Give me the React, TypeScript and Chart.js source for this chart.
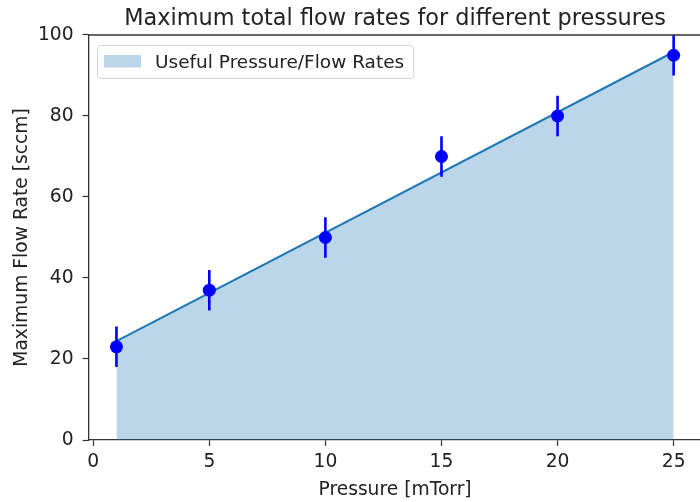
import React, { useEffect, useRef } from "react";
import { Chart, registerables } from "chart.js";

Chart.register(...registerables);

const pressures = [1, 5, 10, 15, 20, 25];
const flowRates = [23, 37, 50, 70, 80, 95];
const flowErrors = [5, 5, 5, 5, 5, 5];
const fitPressures = [1, 25];
const fitFlowRates = [24.4, 95.8];
const xTicks = [0, 5, 10, 15, 20, 25];
const yTicks = [0, 20, 40, 60, 80, 100];
const titleText = "Maximum total flow rates for different pressures";
const xLabel = "Pressure [mTorr]";
const yLabel = "Maximum Flow Rate [sccm]";
const legendLabel = "Useful Pressure/Flow Rates";

const FAMILY = "'DejaVu Sans', sans-serif";
const FS = 18.7;
const TEXT = "#222222";
const AXIS = "#333333";
const C0 = "#1f77b4";
const FILL = "rgba(31,119,180,0.3)";

const framePlugin = {
  id: "frame",
  afterDraw(chart: any) {
    const { ctx, chartArea } = chart;
    ctx.save();
    // top & right spines
    ctx.strokeStyle = AXIS;
    ctx.lineWidth = 1.3;
    ctx.beginPath();
    ctx.moveTo(chartArea.left, chartArea.top);
    ctx.lineTo(chartArea.right, chartArea.top);
    ctx.lineTo(chartArea.right, chartArea.bottom);
    ctx.stroke();

    // legend (inside axes, upper left)
    ctx.font = `18.5px ${FAMILY}`;
    const tw = ctx.measureText(legendLabel).width;
    const fx = Math.round(chartArea.left + 8.5) + 0.5;
    const fy = Math.round(chartArea.top + 10) + 0.5;
    const px = fx + 6.5;
    const py = fy + 9.5;
    const tx = px + 37 + 14;
    const fw = tx + tw + 9.5 - fx;
    const fh = 33;
    ctx.beginPath();
    ctx.roundRect(fx, fy, fw, fh, 3);
    ctx.fillStyle = "rgba(255,255,255,0.8)";
    ctx.fill();
    ctx.strokeStyle = "#d4d4d4";
    ctx.lineWidth = 1;
    ctx.stroke();
    ctx.fillStyle = FILL;
    ctx.fillRect(px, py, 37, 12.5);
    ctx.fillStyle = TEXT;
    ctx.textAlign = "left";
    ctx.textBaseline = "middle";
    ctx.fillText(legendLabel, tx, fy + 17.5);
    ctx.restore();
  },
};

export default function App() {
  const ref = useRef<HTMLCanvasElement | null>(null);

  useEffect(() => {
    if (!ref.current) return;
    const points = pressures.map((p, i) => ({ x: p, y: flowRates[i] }));
    const errorBars: any[] = [];
    pressures.forEach((p, i) => {
      errorBars.push({ x: p, y: flowRates[i] - flowErrors[i] });
      errorBars.push({ x: p, y: flowRates[i] + flowErrors[i] });
      errorBars.push({ x: p, y: null });
    });
    const fit = fitPressures.map((p, i) => ({ x: p, y: fitFlowRates[i] }));

    const tickFont = { family: FAMILY, size: FS };

    const chart = new Chart(ref.current, {
      type: "scatter",
      data: {
        datasets: [
          {
            label: "points",
            data: points,
            showLine: false,
            pointRadius: 6.5,
            pointHoverRadius: 6.5,
            pointBackgroundColor: "#0000ff",
            pointBorderWidth: 0,
            backgroundColor: "#0000ff",
            borderColor: "#0000ff",
          },
          {
            label: "errors",
            data: errorBars,
            showLine: true,
            spanGaps: false,
            pointRadius: 0,
            borderColor: "#0000ff",
            borderWidth: 2.6,
            fill: false,
          },
          {
            label: legendLabel,
            data: fit,
            showLine: true,
            pointRadius: 0,
            borderColor: C0,
            borderWidth: 2,
            backgroundColor: FILL,
            fill: "origin",
          },
        ],
      } as any,
      options: {
        responsive: false,
        animation: false,
        devicePixelRatio: 1,
        layout: { padding: 0 },
        events: [],
        plugins: {
          tooltip: { enabled: false },
          legend: { display: false },
          title: {
            display: true,
            text: titleText,
            fullSize: false,
            color: TEXT,
            font: { family: FAMILY, size: 22.4, weight: "normal" },
            padding: { top: 5.6, bottom: 2.5 },
          },
        },
        scales: {
          x: {
            type: "linear",
            min: -0.2,
            max: 26.2,
            afterBuildTicks: (s: any) => {
              s.ticks = xTicks.map((v) => ({ value: v }));
            },
            afterFit: (s: any) => {
              s.height = 62;
              s.paddingLeft = 0;
              s.paddingRight = 0;
            },
            grid: {
              display: true,
              drawOnChartArea: false,
              drawTicks: true,
              tickLength: 6,
              tickColor: AXIS,
              tickWidth: 1.2,
            },
            border: { display: true, color: AXIS, width: 1.3 },
            ticks: {
              padding: 4.5,
              color: TEXT,
              font: tickFont,
              maxRotation: 0,
              autoSkip: false,
            },
            title: {
              display: true,
              text: xLabel,
              color: TEXT,
              font: { family: FAMILY, size: FS },
              padding: { top: 0, bottom: 0.8 },
            },
          },
          y: {
            type: "linear",
            min: 0,
            max: 100,
            afterBuildTicks: (s: any) => {
              s.ticks = yTicks.map((v) => ({ value: v }));
            },
            afterFit: (s: any) => {
              s.width = 88.6;
              s.paddingTop = 0;
              s.paddingBottom = 0;
            },
            grid: {
              display: true,
              drawOnChartArea: false,
              drawTicks: true,
              tickLength: 6,
              tickColor: AXIS,
              tickWidth: 1.2,
            },
            border: { display: true, color: AXIS, width: 1.3 },
            ticks: {
              padding: 9,
              color: TEXT,
              font: tickFont,
              autoSkip: false,
            },
            title: {
              display: true,
              text: yLabel,
              color: TEXT,
              font: { family: FAMILY, size: FS },
              padding: { top: 10.8, bottom: 0 },
            },
          },
        },
      } as any,
      plugins: [framePlugin],
    });
    return () => chart.destroy();
  }, []);

  return (
    <div
      style={{
        position: "fixed",
        left: 0,
        top: 0,
        width: 700,
        height: 502,
        overflow: "hidden",
        background: "#fff",
      }}
    >
      <canvas ref={ref} width={708} height={502} style={{ width: 708, height: 502, display: "block" }} />
    </div>
  );
}
